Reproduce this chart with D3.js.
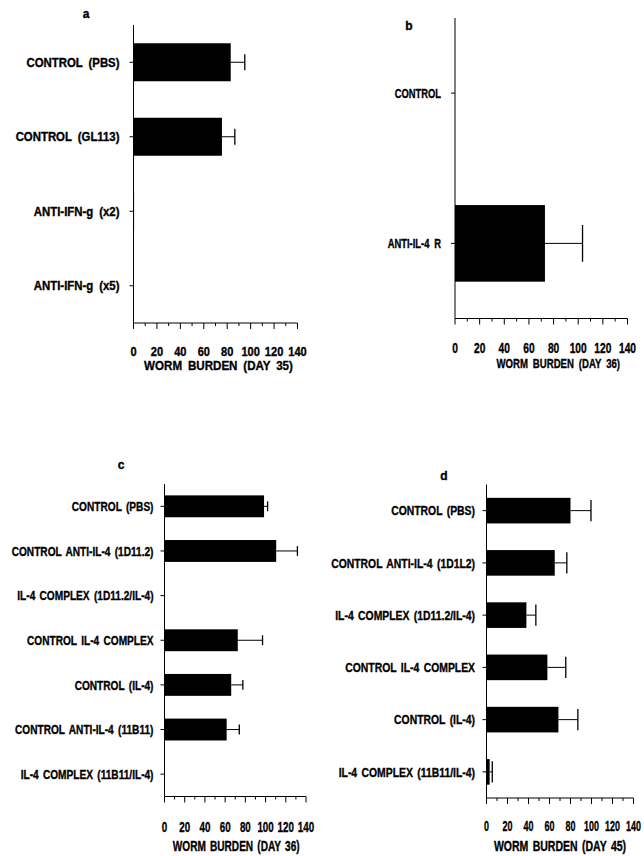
<!DOCTYPE html>
<html lang="en">
<head>
  <meta charset="UTF-8" />
  <title>Worm burden</title>
  <script src="https://d3js.org/d3.v7.min.js"></script>
  <style>
    body { margin: 0; background: #fff; }
    svg { display: block; }
    text { font-family: 'Liberation Sans', Arial, Helvetica, sans-serif; font-weight: bold; fill: #000; stroke: #000; stroke-width: 0.35px; }
  </style>
</head>
<body>
  <svg id="chart" width="644" height="856"></svg>
  <script>
    // panel a
    const groupsA = ["CONTROL (PBS)", "CONTROL (GL113)", "ANTI-IFN-g (x2)", "ANTI-IFN-g (x5)"];
    const meansA = [83, 75.5, 0.5, 0];
    const errA = [95, 86.5, 0.5, 0];
    const titleA = "WORM BURDEN (DAY 35)";

    // panel b
    const groupsB = ["CONTROL", "ANTI-IL-4 R"];
    const meansB = [0, 73];
    const errB = [0, 103.5];
    const titleB = "WORM BURDEN (DAY 36)";

    // panel c
    const groupsC = ["CONTROL (PBS)", "CONTROL ANTI-IL-4 (1D11.2)", "IL-4 COMPLEX (1D11.2/IL-4)",
      "CONTROL IL-4 COMPLEX", "CONTROL (IL-4)", "CONTROL ANTI-IL-4 (11B11)", "IL-4 COMPLEX (11B11/IL-4)"];
    const meansC = [98.5, 110.5, 0, 72.5, 66, 61.5, 0];
    const errC = [102, 131.5, 0, 97, 77.5, 74, 0];
    const titleC = "WORM BURDEN (DAY 36)";

    // panel d
    const groupsD = ["CONTROL (PBS)", "CONTROL ANTI-IL-4 (1D1L2)", "IL-4 COMPLEX (1D11.2/IL-4)",
      "CONTROL IL-4 COMPLEX", "CONTROL (IL-4)", "IL-4 COMPLEX (11B11/IL-4)"];
    const meansD = [80, 65, 38, 58, 68.5, 3];
    const errD = [99.5, 76.5, 47, 75.5, 87, 5.5];
    const titleD = "WORM BURDEN (DAY 45)";

    const xTicks = [0, 20, 40, 60, 80, 100, 120, 140];

    const svg = d3.select("#chart");

    // text squeezed horizontally, the original uses a condensed bold face
    function squeezed(sel, x, y, sx) {
      return sel.attr("transform", `translate(${x},${y}) scale(${sx},1)`);
    }

    function drawPanel(p) {
      const g = svg.append("g");
      const x = d3.scaleLinear().domain([0, 140]).range([p.x0, p.x1]);
      const y = d3.scaleBand().domain(p.groups).range([p.y0, p.y1]).paddingInner(p.pad).paddingOuter(p.pad / 2);
      const yc = d => y(d) + y.bandwidth() / 2;

      // axis lines
      g.append("line").attr("x1", p.x0).attr("x2", p.x0).attr("y1", p.y0).attr("y2", p.y1)
        .attr("stroke", "#000");
      g.append("line").attr("x1", p.x0).attr("x2", p.x1).attr("y1", p.y1).attr("y2", p.y1)
        .attr("stroke", "#000");

      // x ticks: long every 20, short every 10
      g.selectAll(".xt").data(d3.range(0, 141, 10)).enter().append("line")
        .attr("x1", d => x(d)).attr("x2", d => x(d))
        .attr("y1", p.y1).attr("y2", d => p.y1 + (d % 20 === 0 ? 6 : 3))
        .attr("stroke", "#000");
      g.selectAll(".xl").data(xTicks).enter().append("text")
        .attr("text-anchor", "middle")
        .attr("font-size", p.tick[0])
        .each(function (d) { squeezed(d3.select(this), x(d), p.tickY, p.tick[1]); })
        .text(d => d);

      // category ticks and labels
      g.selectAll(".yt").data(p.groups).enter().append("line")
        .attr("x1", p.x0 - 4).attr("x2", p.x0)
        .attr("y1", yc).attr("y2", yc)
        .attr("stroke", "#000");
      g.selectAll(".yl").data(p.groups).enter().append("text")
        .attr("text-anchor", "end")
        .attr("font-size", p.label[0])
        .attr("word-spacing", p.wordSp)
        .each(function (d) { squeezed(d3.select(this), p.x0 - p.labelGap, yc(d) + p.label[0] * 0.36, p.label[1]); })
        .text(d => d);

      // bars
      const rows = p.groups.map((k, i) => ({ k, m: p.means[i], e: p.errs[i] }));
      g.selectAll(".bar").data(rows).enter().append("rect")
        .attr("x", p.x0).attr("y", d => y(d.k))
        .attr("width", d => x(d.m) - p.x0)
        .attr("height", y.bandwidth())
        .attr("fill", "#000");

      // error bars (upper side only)
      const withErr = rows.filter(d => d.e > d.m);
      const cap = y.bandwidth() * p.cap / 2;
      g.selectAll(".err").data(withErr).enter().append("line")
        .attr("x1", d => x(d.m)).attr("x2", d => x(d.e))
        .attr("y1", d => yc(d.k)).attr("y2", d => yc(d.k))
        .attr("stroke", "#000");
      g.selectAll(".cap").data(withErr).enter().append("line")
        .attr("x1", d => x(d.e)).attr("x2", d => x(d.e))
        .attr("y1", d => yc(d.k) - cap).attr("y2", d => yc(d.k) + cap)
        .attr("stroke", "#000").attr("stroke-width", 1.3);

      // axis title and panel letter
      squeezed(g.append("text"), (p.x0 + p.x1) / 2 + p.titleShift, p.titleY, p.title[1])
        .attr("text-anchor", "middle")
        .attr("font-size", p.title[0])
        .attr("word-spacing", p.wordSp)
        .text(p.titleText);
      g.append("text")
        .attr("x", p.letterX).attr("y", p.letterY)
        .attr("text-anchor", "middle")
        .attr("font-size", 12)
        .text(p.letter);
    }

    drawPanel({ groups: groupsA, means: meansA, errs: errA, titleText: titleA, letter: "a",
      x0: 133.5, x1: 297.5, y0: 25, y1: 323, pad: 0.49, cap: 0.42,
      label: [12, 0.95], tick: [13.5, 0.82], title: [13.5, 0.86], wordSp: 3, labelGap: 14,
      tickY: 356, titleY: 370, titleShift: 3, letterX: 86, letterY: 18 });

    drawPanel({ groups: groupsB, means: meansB, errs: errB, titleText: titleB, letter: "b",
      x0: 455, x1: 627.5, y0: 18, y1: 318.5, pad: 0.49, cap: 0.48,
      label: [12.5, 0.75], tick: [14, 0.73], title: [13, 0.74], wordSp: 3, labelGap: 14,
      tickY: 353, titleY: 368, titleShift: 17, letterX: 409, letterY: 30 });

    drawPanel({ groups: groupsC, means: meansC, errs: errC, titleText: titleC, letter: "c",
      x0: 164.5, x1: 306, y0: 484, y1: 796.5, pad: 0.51, cap: 0.45,
      label: [13.5, 0.75], tick: [14, 0.7], title: [14, 0.72], wordSp: 2, labelGap: 11,
      tickY: 831.5, titleY: 851, titleShift: 1, letterX: 121, letterY: 469 });

    drawPanel({ groups: groupsD, means: meansD, errs: errD, titleText: titleD, letter: "d",
      x0: 486.5, x1: 633.5, y0: 484.5, y1: 798, pad: 0.51, cap: 0.83,
      label: [13.5, 0.77], tick: [14, 0.64], title: [14, 0.75], wordSp: 2, labelGap: 11.5,
      tickY: 831, titleY: 851, titleShift: 0, letterX: 444, letterY: 480 });
  </script>
</body>
</html>
